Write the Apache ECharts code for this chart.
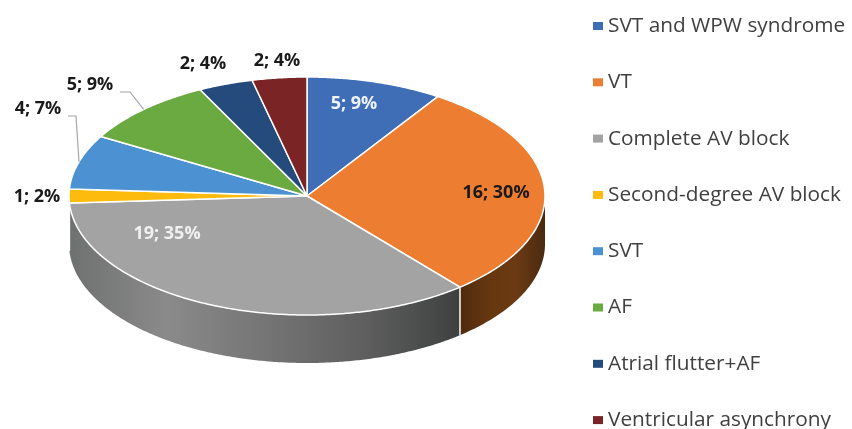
<!DOCTYPE html>
<html>
<head>
<meta charset="utf-8">
<style>
  html, body { margin: 0; padding: 0; background: #fff; }
  #chart { width: 852px; height: 429px; }
</style>
<script src="https://cdn.jsdelivr.net/npm/echarts@6/dist/echarts.min.js"></script>
</head>
<body>
<div id="chart"></div>
<script>
// data
const categories = ['SVT and WPW syndrome', 'VT', 'Complete AV block', 'Second-degree AV block', 'SVT', 'AF', 'Atrial flutter+AF', 'Ventricular asynchrony']
const values = [5, 16, 19, 1, 4, 5, 2, 2]
const percents = [9, 30, 35, 2, 7, 9, 4, 4]

// colours: top face, then the darker wall (left to right, evenly spaced stops)
const colors = ['#3F6DB6', '#ED7D31', '#A3A3A3', '#FDBB0E', '#4C92D2', '#6BA941', '#254A7C', '#7A2426']
const wallColors = [
  ['#2a4a7c', '#2a4a7c'],
  ['#4f2a0e', '#66370f', '#6b3a14', '#4a2a10'],
  ['#6f7070', '#8a8a8a', '#757575', '#5f5f5f', '#3e4040'],
  ['#7d6000', '#7d6000'],
  ['#2c5f8e', '#2c5f8e'],
  ['#426629', '#426629'],
  ['#162b4a', '#162b4a'],
  ['#4a1516', '#4a1516']
]
const labelColors = ['#eef2fa', '#1a1a1a', '#f0f0f0', '#1a1a1a', '#1a1a1a', '#1a1a1a', '#1a1a1a', '#1a1a1a']

// 拼出标签文字
const labelText = values.map((v, i) => v + '; ' + percents[i] + '%')

// layout of the tilted disc
const cx = 307, cy = 196, rx = 238, ry = 119, depth = 48
const labelPos = [[354, 104], [496, 193], [167, 234], [37, 197], [38, 109], [90, 85], [203, 64], [277, 61]]
const leaderFrom = { 4: [68, 116, 76, 116], 5: [120, 92, 130, 92] }

const total = values.reduce((a, b) => a + b, 0)
const rim = (deg, dy) => {
  const a = deg * Math.PI / 180
  return [cx + rx * Math.sin(a), cy - ry * Math.cos(a) + (dy || 0)]
}
const arc = (from, to, dy) => {
  const pts = []
  const n = Math.max(2, Math.ceil((to - from) * 2))
  for (let k = 0; k <= n; k++) pts.push(rim(from + (to - from) * k / n, dy))
  return pts
}

const renderSlice = (i) => (params, api) => {
  const before = values.slice(0, i).reduce((a, b) => a + b, 0)
  const start = before / total * 360
  const end = start + api.value(0) / total * 360
  const mid = (start + end) / 2
  const children = []

  // 侧面只有 90-270 度可见
  const wStart = Math.max(start, 90), wEnd = Math.min(end, 270)
  if (wEnd > wStart) {
    const top = arc(wStart, wEnd, 0)
    const bottom = arc(wStart, wEnd, depth).reverse()
    const stops = wallColors[i].map((color, k, all) => ({ offset: k / (all.length - 1), color }))
    children.push({
      type: 'polygon',
      z2: 1,
      shape: { points: top.concat(bottom) },
      style: { fill: new echarts.graphic.LinearGradient(0, 0, 1, 0, stops) }
    })
    if (start >= 90 && start < 270) {
      const a = rim(start, 0), b = rim(start, depth)
      children.push({
        type: 'line',
        z2: 2,
        shape: { x1: a[0], y1: a[1], x2: b[0], y2: b[1] },
        style: { stroke: '#fff', lineWidth: 1.5 }
      })
    }
  }

  children.push({
    type: 'polygon',
    z2: 3,
    shape: { points: [[cx, cy]].concat(arc(start, end, 0)) },
    style: { fill: api.visual('color'), stroke: '#fff', lineWidth: 1.5, lineJoin: 'round' }
  })

  if (leaderFrom[i]) {
    const f = leaderFrom[i], e = rim(mid, 0)
    children.push({
      type: 'polyline',
      z2: 4,
      shape: { points: [[f[0], f[1]], [f[2], f[3]], e] },
      style: { stroke: '#a6a6a6', lineWidth: 1.2, fill: null }
    })
  }

  children.push({
    type: 'text',
    z2: 5,
    style: {
      x: labelPos[i][0],
      y: labelPos[i][1],
      text: labelText[i],
      align: 'center',
      verticalAlign: 'middle',
      fill: labelColors[i],
      font: 'bold 18px "Open Sans"'
    }
  })
  return { type: 'group', children }
}

const chart = echarts.init(document.getElementById('chart'), null, { renderer: 'canvas' })
chart.setOption({
  animation: false,
  legend: {
    orient: 'vertical',
    left: 593,
    top: 14,
    height: 425,
    padding: 0,
    itemGap: 32.3,
    itemWidth: 10,
    itemHeight: 8,
    icon: 'rect',
    data: categories,
    textStyle: { fontFamily: '"Open Sans"', fontSize: 20.8, lineHeight: 24, color: '#404040' }
  },
  series: categories.map((name, i) => ({
    type: 'custom',
    name,
    coordinateSystem: 'none',
    silent: true,
    itemStyle: { color: colors[i] },
    data: [[values[i]]],
    renderItem: renderSlice(i)
  }))
})
</script>
</body>
</html>
